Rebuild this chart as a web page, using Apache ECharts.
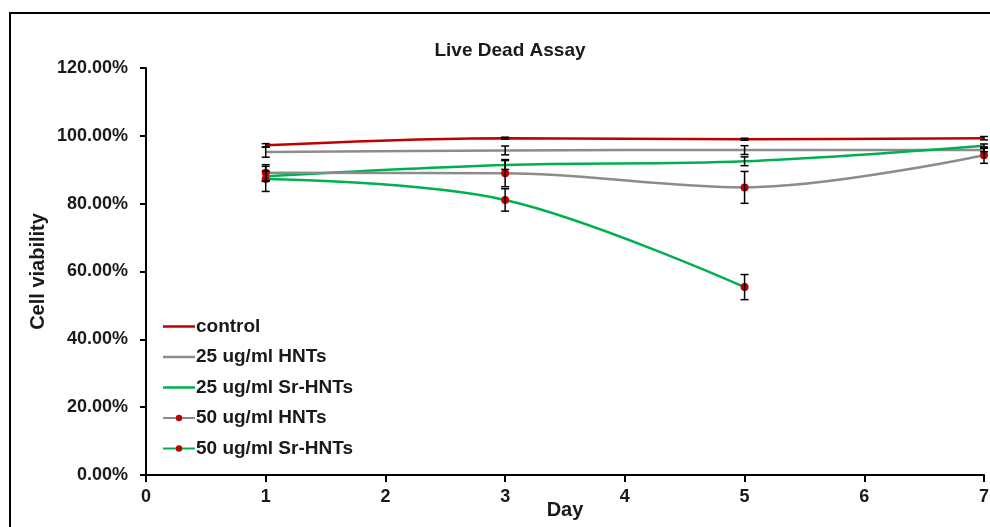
<!DOCTYPE html>
<html>
<head>
<meta charset="utf-8">
<script src="https://cdn.jsdelivr.net/npm/echarts@6/dist/echarts.min.js"></script>
<style>
html,body{margin:0;padding:0;background:#fff;}
#chart{width:990px;height:527px;}
</style>
</head>
<body>
<div id="chart"></div>
<script>
var days = [1, 3, 5, 7];
var seriesNames = ['control', '25 ug/ml HNTs', '25 ug/ml Sr-HNTs', '50 ug/ml HNTs', '50 ug/ml Sr-HNTs'];
var control = [97.2, 99.3, 99.0, 99.3];
var hnt25 = [95.2, 95.7, 95.8, 95.8];
var srhnt25 = [88.1, 91.4, 92.5, 97.1];
var hnt50 = [89.1, 89.0, 84.8, 94.3];
var srhnt50 = [87.3, 81.1, 55.4];
var controlErr = [0.5, 0.3, 0.3, 0.5];
var hnt25Err = [1.5, 1.3, 1.3, 0.5];
var srhnt25Err = [1.5, 1.3, 1.3, 0.5];
var hnt50Err = [2.4, 4.0, 4.7, 2.4];
var srhnt50Err = [3.7, 3.3, 3.7];

var chart = echarts.init(document.getElementById('chart'), null, {renderer: 'canvas'});
var FONT = 'Liberation Sans, Arial, sans-serif';

function pairs(vals) { return vals.map(function (v, i) { return [days[i], v]; }); }
function errData(vals, errs) { return vals.map(function (v, i) { return [days[i], v - errs[i], v + errs[i]]; }); }

function errSeries(vals, errs) {
  return {
    type: 'custom',
    silent: true,
    z: 5,
    data: errData(vals, errs),
    renderItem: function (params, api) {
      var lo = api.coord([api.value(0), api.value(1)]);
      var hi = api.coord([api.value(0), api.value(2)]);
      var w = 4;
      var st = {stroke: '#000', lineWidth: 1.5};
      return {
        type: 'group',
        children: [
          {type: 'line', shape: {x1: lo[0], y1: lo[1], x2: hi[0], y2: hi[1]}, style: st},
          {type: 'line', shape: {x1: lo[0] - w, y1: lo[1], x2: lo[0] + w, y2: lo[1]}, style: st},
          {type: 'line', shape: {x1: hi[0] - w, y1: hi[1], x2: hi[0] + w, y2: hi[1]}, style: st}
        ]
      };
    }
  };
}

var RED = '#c00000', GRAY = '#8c8c8c', GREEN = '#00b050';
var LINE_ICON = 'path://M0,0H32V2.5H0Z';

function lineSeries(name, vals, color, marker) {
  return {
    name: name,
    type: 'line',
    smooth: 0.35,
    data: pairs(vals),
    symbol: marker ? 'circle' : 'none',
    showSymbol: !!marker,
    symbolSize: 8,
    itemStyle: {color: marker ? RED : color, borderWidth: 0},
    lineStyle: {color: color, width: 2.5},
    z: 3
  };
}

var option = {
  animation: false,
  backgroundColor: '#fff',
  title: {
    text: 'Live Dead Assay',
    left: 505, top: 36, textAlign: 'center',
    textStyle: {fontFamily: FONT, fontSize: 19, fontWeight: 'bold', color: '#1a1a1a'}
  },
  graphic: [{
    type: 'rect', shape: {x: 10, y: 13, width: 1000, height: 540},
    style: {fill: 'none', stroke: '#000', lineWidth: 2}, silent: true, z: 100
  }],
  legend: {
    orient: 'vertical', left: 157, top: 312,
    itemWidth: 32, itemHeight: 8, itemGap: 11.5,
    symbolKeepAspect: true,
    data: [
      {name: seriesNames[0], icon: LINE_ICON},
      {name: seriesNames[1], icon: LINE_ICON},
      {name: seriesNames[2], icon: LINE_ICON},
      {name: seriesNames[3]},
      {name: seriesNames[4]}
    ],
    textStyle: {fontFamily: FONT, fontSize: 19, lineHeight: 19, fontWeight: 'bold', color: '#1a1a1a', padding: [0, 0, 0, -4]}
  },
  grid: {left: 146, top: 68, right: 6, bottom: 52, containLabel: false, outerBoundsMode: 'none'},
  xAxis: {
    type: 'value', min: 0, max: 7, interval: 1,
    name: 'Day', nameLocation: 'middle', nameGap: 25, nameMoveOverlap: false,
    nameTextStyle: {fontFamily: FONT, fontSize: 20, fontWeight: 'bold', color: '#1a1a1a'},
    axisLine: {lineStyle: {color: '#000', width: 2}},
    axisTick: {show: true, length: 7, lineStyle: {color: '#000', width: 2}},
    axisLabel: {fontFamily: FONT, fontSize: 18, fontWeight: 'bold', color: '#1a1a1a', margin: 13},
    splitLine: {show: false}
  },
  yAxis: {
    type: 'value', min: 0, max: 120, interval: 20,
    name: 'Cell viability', nameLocation: 'middle', nameGap: 98, nameMoveOverlap: false,
    nameTextStyle: {fontFamily: FONT, fontSize: 20, fontWeight: 'bold', color: '#1a1a1a'},
    axisLine: {show: true, lineStyle: {color: '#000', width: 2}},
    axisTick: {show: true, length: 6, lineStyle: {color: '#000', width: 2}},
    axisLabel: {fontFamily: FONT, fontSize: 18, fontWeight: 'bold', color: '#1a1a1a', margin: 18,
      formatter: function (v) { return v.toFixed(2) + '%'; }},
    splitLine: {show: false}
  },
  series: [
    lineSeries(seriesNames[0], control, RED, false),
    lineSeries(seriesNames[1], hnt25, GRAY, false),
    lineSeries(seriesNames[2], srhnt25, GREEN, false),
    lineSeries(seriesNames[3], hnt50, GRAY, true),
    lineSeries(seriesNames[4], srhnt50, GREEN, true),
    errSeries(control, controlErr),
    errSeries(hnt25, hnt25Err),
    errSeries(srhnt25, srhnt25Err),
    errSeries(hnt50, hnt50Err),
    errSeries(srhnt50, srhnt50Err)
  ]
};
chart.setOption(option);
</script>
</body>
</html>
